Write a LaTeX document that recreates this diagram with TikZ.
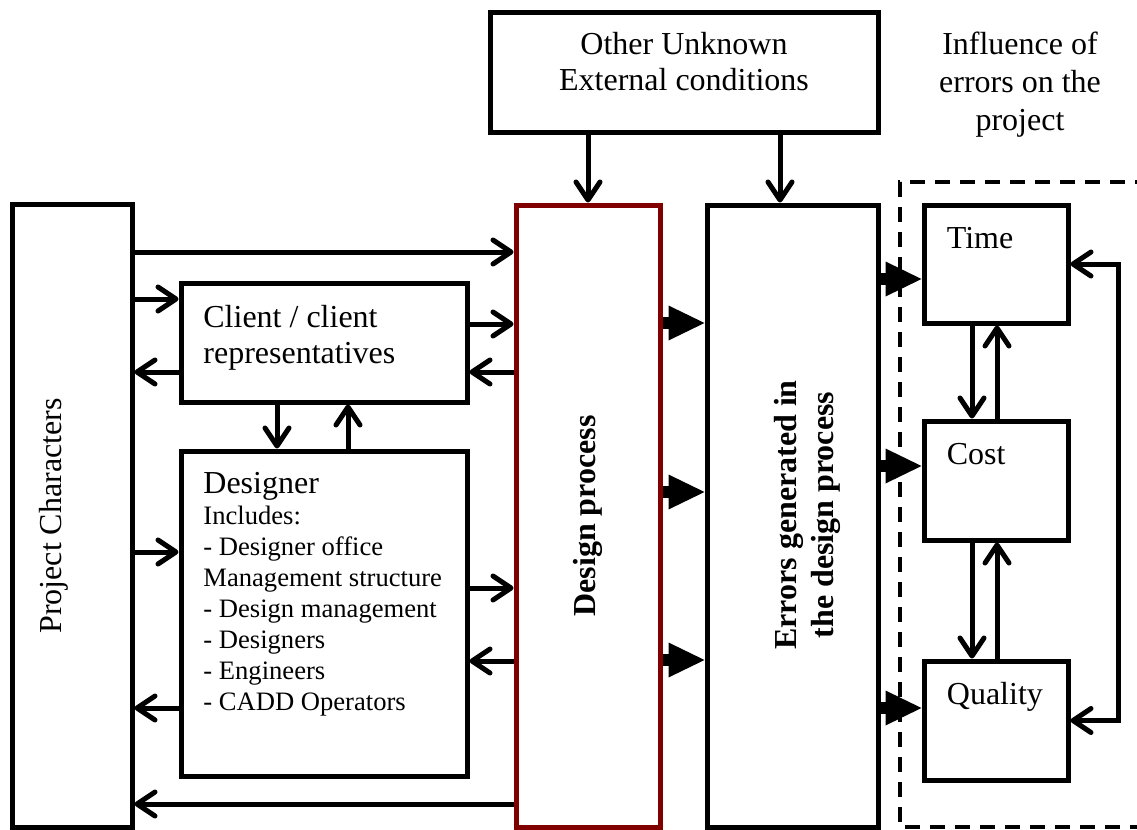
\documentclass[tikz,border=0pt]{standalone}
\usepackage{fontspec}
\setmainfont{Liberation Serif}
\usetikzlibrary{arrows.meta}
\definecolor{darkred}{RGB}{128,0,0}
\begin{document}
\begin{tikzpicture}[x=0.5pt, y=-0.5pt, >={Straight Barb[length=9pt,width=12pt,round]}]
  \tikzset{
    box/.style={draw=black, line width=2.5pt, rectangle, inner sep=0pt},
    txt/.style={inner sep=0pt, font=\fontsize{16}{18}\selectfont},
    small/.style={inner sep=0pt, font=\fontsize{13.3}{15.5}\selectfont},
    arr/.style={->, line width=2.5pt},
    bigarr/.style={-{Triangle[length=18pt,width=17.5pt,line width=0pt]}, line width=6pt},
    dashbox/.style={line width=2pt, dash pattern=on 7.5pt off 5pt},
  }

  \useasboundingbox (0,0) rectangle (1137,830);

  % boxes
  \node[box, minimum width=194pt, minimum height=60pt] (other) at (684,72) {};
  \node[box, minimum width=60pt, minimum height=311.5pt] (proj) at (72,515.5) {};
  \node[box, minimum width=143pt, minimum height=59.5pt] (client) at (324,342.5) {};
  \node[box, minimum width=143pt, minimum height=162.5pt] (designer) at (324,613.5) {};
  \node[box, draw=darkred, minimum width=72pt, minimum height=311pt] (design) at (588,516) {};
  \node[box, minimum width=85.5pt, minimum height=311pt] (errors) at (792.5,516) {};
  \node[box, minimum width=72pt, minimum height=59pt] (time) at (996,264) {};
  \node[box, minimum width=72pt, minimum height=59.5pt] (cost) at (996,480.5) {};
  \node[box, minimum width=72pt, minimum height=59.5pt] (quality) at (996,720.5) {};

  \draw[dashbox] (1150,182) -| (900,827) -- (1150,827);

  % texts
  \node[txt, align=center] (otherlbl) at (684,62) {Other Unknown\\External conditions};
  \node[txt, align=center, font=\fontsize{16}{19}\selectfont] (infl) at (1020,85) {Influence of\\errors on the\\project};
  \node[txt, rotate=90] (projlbl) at (54,516) {Project Characters};
  \node[txt, align=left, anchor=north west] (clientlbl) at (203,305) {Client / client\\representatives};
  \node[small, align=left, anchor=north west] (designerlbl) at (203,472)
    {{\fontsize{16}{18}\selectfont Designer}\\Includes:\\- Designer office\\Management structure\\
     - Design management\\- Designers\\- Engineers\\- CADD Operators};
  \node[txt, rotate=90, font=\bfseries\fontsize{16}{18}\selectfont] (designlbl) at (588,516) {Design process};
  \node[txt, rotate=90, align=center, font=\bfseries\fontsize{16}{18.5}\selectfont] (errorslbl) at (807,515)
    {Errors generated in\\the design process};
  \foreach \n/\t in {time/Time, cost/Cost, quality/Quality}
    \node[txt, anchor=base west] (\n lbl) at ([shift={(25,46)}]\n.north west) {\t};

  % left side links
  \draw[arr] (proj.east |- 0,252) -- (design.west |- 0,252);
  \draw[arr] (proj.east |- 0,299) -- (client.west |- 0,299);
  \draw[arr] (client.west |- 0,372) -- (proj.east |- 0,372);
  \draw[arr] (client.east |- 0,324) -- (design.west |- 0,324);
  \draw[arr] (design.west |- 0,372) -- (client.east |- 0,372);
  \draw[arr] (client.south -| 277,0) -- (designer.north -| 277,0);
  \draw[arr] (designer.north -| 348,0) -- (client.south -| 348,0);
  \draw[arr] (proj.east |- 0,552) -- (designer.west |- 0,552);
  \draw[arr] (designer.east |- 0,588) -- (design.west |- 0,588);
  \draw[arr] (design.west |- 0,661) -- (designer.east |- 0,661);
  \draw[arr] (designer.west |- 0,708) -- (proj.east |- 0,708);
  \draw[arr] (design.west |- 0,804) -- (proj.east |- 0,804);

  % external conditions
  \draw[arr] (other.south -| design.north) -- (design.north);
  \draw[arr] (other.south -| 780,0) -- (errors.north -| 780,0);

  % errors and their influence
  \foreach \y in {323,492,660}
    \draw[bigarr] (design.east |- 0,\y) -- (errors.west |- 0,\y);
  \foreach \y/\n in {279/time, 466/cost, 708/quality}
    \draw[bigarr] (errors.east |- 0,\y) -- (\n.west |- 0,\y);

  \foreach \a/\b in {time/cost, cost/quality} {
    \draw[arr] (\a.south -| 972,0) -- (\b.north -| 972,0);
    \draw[arr] (\b.north -| 997,0) -- (\a.south -| 997,0);
  }
  \draw[arr, <->] (time.east) -- ++(48,0) |- (quality.east);
\end{tikzpicture}
\end{document}
